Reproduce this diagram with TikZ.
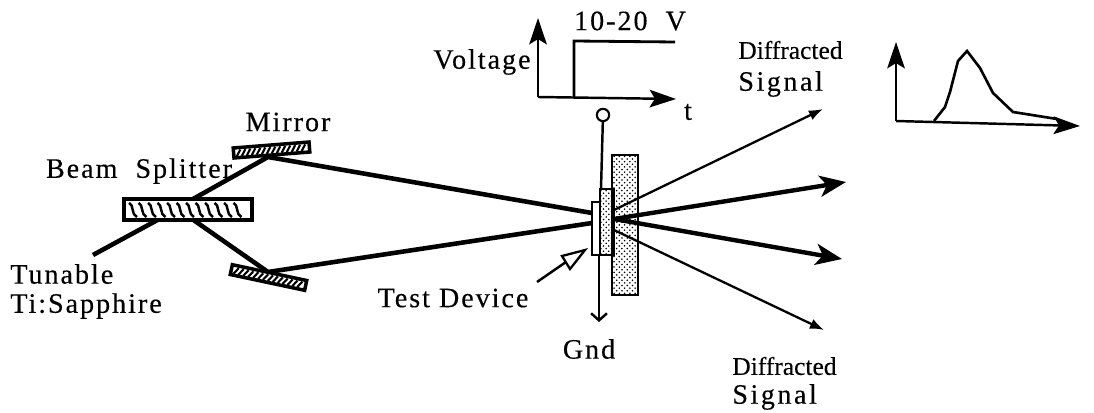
\documentclass[tikz,border=0pt]{standalone}
\usepackage{fontspec}
\setmainfont{Liberation Serif}[LetterSpace=7,FakeBold=0.3]
\newfontfamily\diffont{Liberation Serif}[LetterSpace=0,FakeBold=0.3]
\newfontfamily\sigfont{Liberation Serif}[LetterSpace=9,FakeBold=0.3]
\usetikzlibrary{arrows.meta,patterns}
\tikzset{
  lab/.style={font=\fontsize{16}{18}\selectfont,inner sep=0pt},
  diff/.style={font=\diffont\fontsize{14.5}{16}\selectfont,inner sep=0pt,anchor=west},
  sig/.style={font=\sigfont\fontsize{16}{18}\selectfont,inner sep=0pt,anchor=west},
  beam/.style={line width=2.6pt},
  ray/.style={line width=1.3pt,-{Latex[length=8pt,width=6pt]}},
  bigray/.style={line width=2.5pt,-{Stealth[length=15pt,width=12pt,inset=4pt]}},
  axis/.style={line width=1.4pt,-{Stealth[length=15pt,width=10pt,inset=3pt]}},
  mirrorbox/.style={draw,line width=2pt,fill=white},
  speckle/.style={draw,line width=1.4pt,pattern=crosshatch dots,pattern color=black},
}
\begin{document}
\begin{tikzpicture}[x=0.02cm,y=-0.02cm]
  \useasboundingbox (0,0) rectangle (1094,412);
  % points on the beam path
  \coordinate (src) at (93,255);
  \coordinate (hitin) at (163,217);
  \coordinate (upout) at (193,199);
  \coordinate (lowout) at (192,219);
  \coordinate (mtop) at (268,157);
  \coordinate (mlow) at (268,272);
  \coordinate (devtop) at (592,213);
  \coordinate (devlow) at (592,223);
  \coordinate (back) at (614,219);
  % beams
  \draw[beam] (src) -- (hitin);
  \draw[beam] (upout) -- (mtop) -- (devtop);
  \draw[beam] (lowout) -- (mlow) -- (devlow);
  % splitter and mirrors
  \draw[mirrorbox] (124,199) rectangle (252,220);
  \foreach \x in {129,138.5,...,240}
    \draw[line width=1.4pt] (\x,203) .. controls (\x+5,204) and (\x+2,215) .. (\x+8,217);
  \begin{scope}[shift={(271.5,150)},rotate=4.5]
    \draw[mirrorbox] (-38,-5) rectangle (38,5);
    \foreach \x in {-35,-30,...,30}
      \draw[line width=1.2pt] (\x,3.5) -- (\x+4,-3);
  \end{scope}
  \begin{scope}[shift={(268.5,277.5)},rotate=-12]
    \draw[mirrorbox] (-38,-5) rectangle (38,5);
    \foreach \x in {-35,-30,...,30}
      \draw[line width=1.2pt] (\x,3.5) -- (\x+4,-3);
  \end{scope}
  % test device
  \draw[speckle] (612,155) rectangle (638,295);
  \draw[line width=1.4pt,fill=white] (592,202) rectangle (600,255);
  \draw[speckle] (600,189) rectangle (614,255);
  % electrode
  \node[circle,draw,line width=1.2pt,inner sep=0pt,minimum size=7pt] (term) at (603,115) {};
  \coordinate (padtop) at (601,189);
  \coordinate (padlow) at (599,255);
  \coordinate (gndend) at (599,322);
  \draw[line width=1.4pt] (term) -- (padtop);
  \draw[line width=1.4pt,-{Straight Barb[length=4pt,width=9pt]}] (padlow) -- (gndend);
  % outgoing
  \coordinate (rayup) at (614,210);
  \coordinate (raydown) at (614,230);
  \coordinate (tipup) at (823,109);
  \coordinate (tipmid) at (846,182);
  \coordinate (tiplow) at (842,259);
  \coordinate (tipdown) at (824,330);
  \draw[ray] (rayup) -- (tipup);
  \draw[bigray] (back) -- (tipmid);
  \draw[bigray] (back) -- (tiplow);
  \draw[ray] (raydown) -- (tipdown);
  % pointer
  \coordinate (ptrtail) at (537,282);
  \coordinate (ptrneck) at (566,262);
  \draw[line width=1.4pt] (ptrtail) -- (ptrneck);
  \draw[line width=1.3pt,fill=white] (562,256) -- (585,250) -- (570,269) -- cycle;
  % voltage step
  \coordinate (vo) at (538,97);
  \coordinate (vy) at (538,18);
  \coordinate (vx) at (676,99);
  \coordinate (vs) at (574,97);
  \coordinate (vh) at (574,41);
  \coordinate (ve) at (675,42);
  \draw[axis] (vo) -- (vy);
  \draw[axis] (vo) -- (vx);
  \draw[line width=1.6pt] (vs) -- (vh) -- (ve);
  % signal pulse
  \coordinate (so) at (896,121);
  \coordinate (sy) at (896,42);
  \coordinate (sx) at (1080,126);
  \draw[axis] (so) -- (sy);
  \draw[axis] (so) -- (sx);
  \draw[line width=1.5pt] (934,121) -- (945,107) -- (950,92) -- (958,61) -- (967,51)
    -- (980,68) -- (993,93) -- (1013,112) -- (1057,119);
  % labels
  \node[lab] (mirror) at (288,122) {Mirror};
  \node[lab] (splitter) at (139,171) {Beam\ \ Splitter};
  \node[lab,anchor=west] (tunable) at (10,274) {Tunable};
  \node[lab,anchor=west] (sapphire) at (10,306) {Ti:Sapphire};
  \node[lab] (device) at (453,298) {Test Device};
  \node[lab] (gnd) at (589,349) {Gnd};
  \node[lab] (voltage) at (482,62) {Voltage};
  \node[lab] (volts) at (630,21) {10-20\ \ V};
  \node[lab] (tlab) at (688,112) {t};
  \node[diff] (difftop) at (738,50) {Diffracted};
  \node[sig] (sigtop) at (738,84) {Signal};
  \node[diff] (difflow) at (732,366) {Diffracted};
  \node[sig] (siglow) at (732,397) {Signal};
\end{tikzpicture}
\end{document}
